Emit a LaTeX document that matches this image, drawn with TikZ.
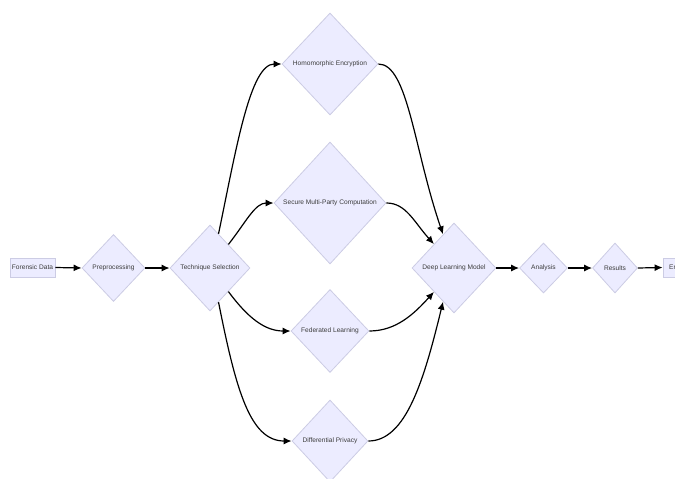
\documentclass[tikz,border=0pt]{standalone}
\usepackage{fontspec}
\setmainfont{Liberation Sans}
\usetikzlibrary{shapes.geometric,arrows.meta}
\definecolor{nodefill}{RGB}{236,236,255}
\definecolor{nodeline}{RGB}{204,204,228}
\definecolor{labeltext}{RGB}{60,60,60}
\tikzset{
  every node/.style={font=\fontsize{6.6}{7}\selectfont, text=labeltext},
  boxnode/.style={rectangle, draw=nodeline, fill=nodefill, line width=0.8pt, inner sep=0pt},
  decision/.style={diamond, draw=nodeline, fill=nodefill, line width=0.8pt, inner sep=0pt},
  flow/.style={draw=black, line width=1.2pt, -{Latex[length=8pt,width=7pt]}},
}
\begin{document}
\begin{tikzpicture}[x=1pt,y=-1pt]
  \useasboundingbox (0,0) rectangle (675,479);
  \clip (0,0) rectangle (675,479);

  % main pipeline
  \node[boxnode, minimum width=45pt, minimum height=19pt] (fd) at (32.5,267.5) {Forensic Data};
  \node[decision, minimum width=63pt, minimum height=67pt] (pre) at (113.5,268) {Preprocessing};
  \node[decision, minimum width=80pt, minimum height=86pt] (ts) at (210,268) {Technique Selection};

  % privacy techniques
  \node[decision, minimum width=96pt, minimum height=102pt] (he) at (330,64) {Homomorphic Encryption};
  \node[decision, minimum width=112pt, minimum height=122pt] (smpc) at (330,203) {Secure Multi-Party Computation};
  \node[decision, minimum width=78pt, minimum height=83pt] (fl) at (330,331) {Federated Learning};
  \node[decision, minimum width=76pt, minimum height=82pt] (dp) at (330,441) {Differential Privacy};

  % model and outputs
  \node[decision, minimum width=84pt, minimum height=90pt] (dlm) at (454,268) {Deep Learning Model};
  \node[decision, minimum width=48pt, minimum height=50pt] (an) at (543.5,268) {Analysis};
  \node[decision, minimum width=45pt, minimum height=50pt] (res) at (615,268) {Results};
  \node[boxnode, minimum width=24pt, minimum height=19pt] (end) at (675,267.5) {End};

  % straight connectors
  \draw[flow] (fd.east) -- (pre.west);
  \draw[flow] (pre.east) -- (ts.west);
  \draw[flow] (dlm.east) -- (an.west);
  \draw[flow] (an.east) -- (res.west);
  \draw[flow] (res.east) -- (end.west);

  % branches out of the technique selection
  \draw[flow] (ts.76) .. controls (236,150) and (250,64) .. (he.west);
  \draw[flow] (ts.52) .. controls (246,222) and (255,203) .. (smpc.west);
  \draw[flow] (ts.-52) .. controls (248,318) and (265,331) .. (fl.west);
  \draw[flow] (ts.-76) .. controls (236,390) and (250,441) .. (dp.west);

  % branches into the model
  \draw[flow] (he.east) .. controls (408,64) and (414,150) .. (dlm.108);
  \draw[flow] (smpc.east) .. controls (406,203) and (414,222) .. (dlm.130);
  \draw[flow] (fl.east) .. controls (396,331) and (414,314) .. (dlm.230);
  \draw[flow] (dp.east) .. controls (406,441) and (424,380) .. (dlm.252);
\end{tikzpicture}
\end{document}
